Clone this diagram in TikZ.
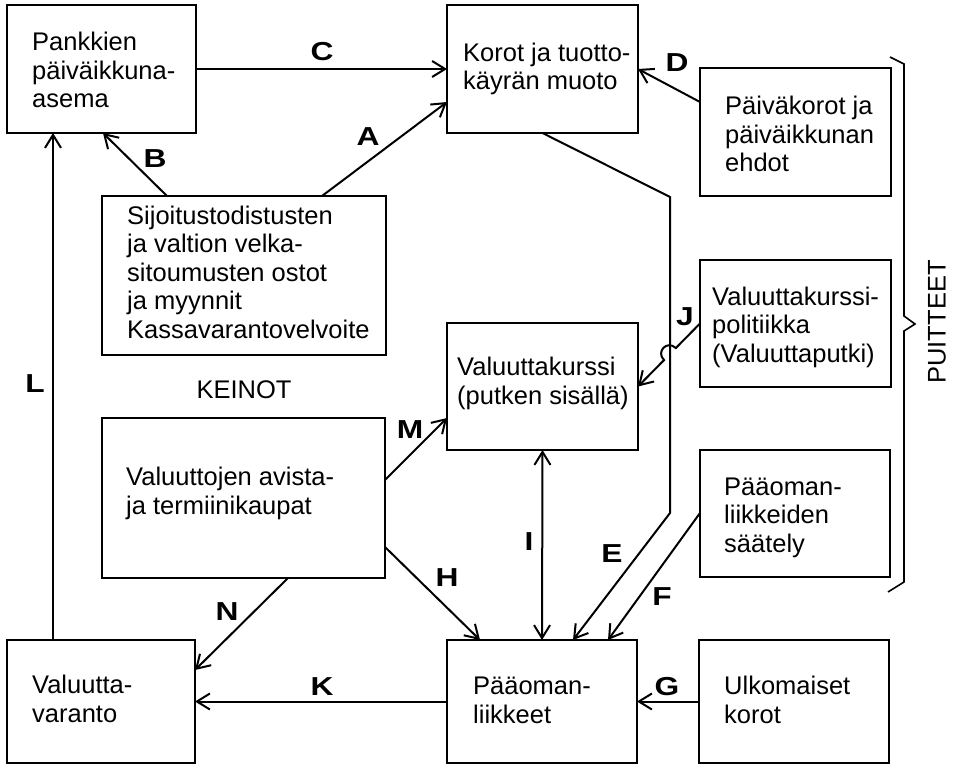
\documentclass[tikz,border=0pt]{standalone}
\usepackage{fontspec}
\setmainfont{Liberation Sans}
\newfontfamily\lblfont[FakeStretch=1.22]{Liberation Sans}
\usetikzlibrary{arrows.meta,calc}

\tikzset{
  box/.style={draw, line width=2pt, inner sep=0pt, outer sep=0pt, anchor=north west},
  % multi-line texts are placed by the baseline of their last line
  txt/.style={anchor=base west, align=left, inner sep=0pt,
              font=\fontsize{25.5}{28.5}\selectfont},
  lbl/.style={inner sep=0pt, font=\lblfont\bfseries\fontsize{26}{26}\selectfont},
  conn/.style={line width=2pt, -{Straight Barb[length=13pt,width=16pt,line width=2pt]}},
  both/.style={line width=2pt, {Straight Barb[length=13pt,width=16pt,line width=2pt]}-{Straight Barb[length=13pt,width=16pt,line width=2pt]}},
}

\begin{document}
\begin{tikzpicture}[x=1pt,y=-1pt]
\useasboundingbox (0,0) rectangle (958,767);

% --- boxes ---
\node[box, minimum width=189pt, minimum height=128pt] (pk) at (7,5) {};
\node[box, minimum width=191pt, minimum height=128pt] (ko) at (447,5) {};
\node[box, minimum width=191pt, minimum height=128pt] (pv) at (700,68) {};
\node[box, minimum width=284pt, minimum height=159pt] (si) at (102,196) {};
\node[box, minimum width=191pt, minimum height=127pt] (vp) at (700,260) {};
\node[box, minimum width=191pt, minimum height=127pt] (vk) at (447,323) {};
\node[box, minimum width=283pt, minimum height=160pt] (va) at (102,418) {};
\node[box, minimum width=190pt, minimum height=127pt] (ps) at (700,450) {};
\node[box, minimum width=188pt, minimum height=123pt] (vv) at (7,640) {};
\node[box, minimum width=190pt, minimum height=123pt] (pl) at (447,640) {};
\node[box, minimum width=190pt, minimum height=123pt] (uk) at (699,640) {};

% --- box texts ---
\node[txt] (tpk) at (32,108) {Pankkien\\päiväikkuna-\\asema};
\node[txt] (tko) at (463,90) {Korot ja tuotto-\\käyrän muoto};
\node[txt] (tpv) at (725,172) {Päiväkorot ja\\päiväikkunan\\ehdot};
\node[txt] (tsi) at (127,338) {Sijoitustodistusten\\ja valtion velka-\\sitoumusten ostot\\ja myynnit\\Kassavarantovelvoite};
\node[txt] (tvp) at (712,362) {Valuuttakurssi-\\politiikka\\(Valuuttaputki)};
\node[txt] (tvk) at (457,404) {Valuuttakurssi\\(putken sisällä)};
\node[txt] (tva) at (126,514) {Valuuttojen avista-\\ja termiinikaupat};
\node[txt] (tps) at (724,552) {Pääoman-\\liikkeiden\\säätely};
\node[txt] (tvv) at (32,722) {Valuutta-\\varanto};
\node[txt] (tpl) at (473,723) {Pääoman-\\liikkeet};
\node[txt] (tuk) at (724,723) {Ulkomaiset\\korot};

% --- group captions ---
\node[txt, anchor=base] (keinot) at (244,398) {KEINOT};
\node[txt, anchor=center, rotate=90] (puitteet) at (937,322) {PUITTEET};

% --- brace around the framework boxes ---
\draw[line width=1.6pt] (890,57) -- (904,64) -- (904,316) -- (915,324)
      -- (904,331) -- (904,582) -- (888,592);

% --- connectors ---
\draw[conn] (pk.east) -- (ko.west);                                   % C
\draw[conn] ([xshift=220pt]si.north west) -- ([yshift=31pt]ko.south west); % A
\draw[conn] ([xshift=65pt]si.north west) -- ([xshift=96pt]pk.south west);  % B
\draw[conn] ([yshift=-34pt]pv.north west) -- (ko.east);               % D
\coordinate (e1) at (670,197);
\coordinate (e2) at (670,513);
\draw[conn] (ko.south) -- (e1) -- (e2) -- ([xshift=126pt]pl.north west); % E
\draw[conn] ([yshift=-63pt]ps.north west) -- ([xshift=161pt]pl.north west); % F
\draw[conn] (uk.west) -- (pl.west -| pl.east);                        % G
\draw[conn] (pl.west) -- (vv.east);                                   % K
\draw[both] (vk.south) -- (pl.north);                                 % I
\draw[conn] ([yshift=31pt]va.south east) -- ([xshift=33pt]pl.north west); % H
\draw[conn] ([yshift=-62pt]va.north east) -- ([yshift=32pt]vk.south west); % M
\draw[conn] ([xshift=186pt]va.south west) -- ([yshift=-30pt]vv.north east); % N
\draw[conn] ([xshift=46pt]vv.north west) -- ([xshift=46pt]pk.south west);  % L
% J hops over the vertical part of E
\coordinate (j1) at ($(vp.west)!0.39!(vk.east)$);
\coordinate (j2) at ($(vp.west)!0.58!(vk.east)$);
\draw[conn] (vp.west) -- (j1)
   .. controls ($(j1)!12pt!-90:(j2)$) and ($(j2)!12pt!90:(j1)$) .. (j2)
   -- (vk.east);

% --- connector labels ---
\node[lbl] (lC) at (322,52) {C};
\node[lbl] (lA) at (368,137) {A};
\node[lbl] (lB) at (155,159) {B};
\node[lbl] (lD) at (677,63) {D};
\node[lbl] (lJ) at (685,317) {J};
\node[lbl] (lL) at (35,384) {L};
\node[lbl] (lM) at (410,430) {M};
\node[lbl] (lH) at (447,578) {H};
\node[lbl] (lN) at (227,612) {N};
\node[lbl] (lK) at (322,687) {K};
\node[lbl] (lI) at (529,542) {I};
\node[lbl] (lE) at (612,554) {E};
\node[lbl] (lF) at (662,597) {F};
\node[lbl] (lG) at (667,687) {G};
\end{tikzpicture}
\end{document}
